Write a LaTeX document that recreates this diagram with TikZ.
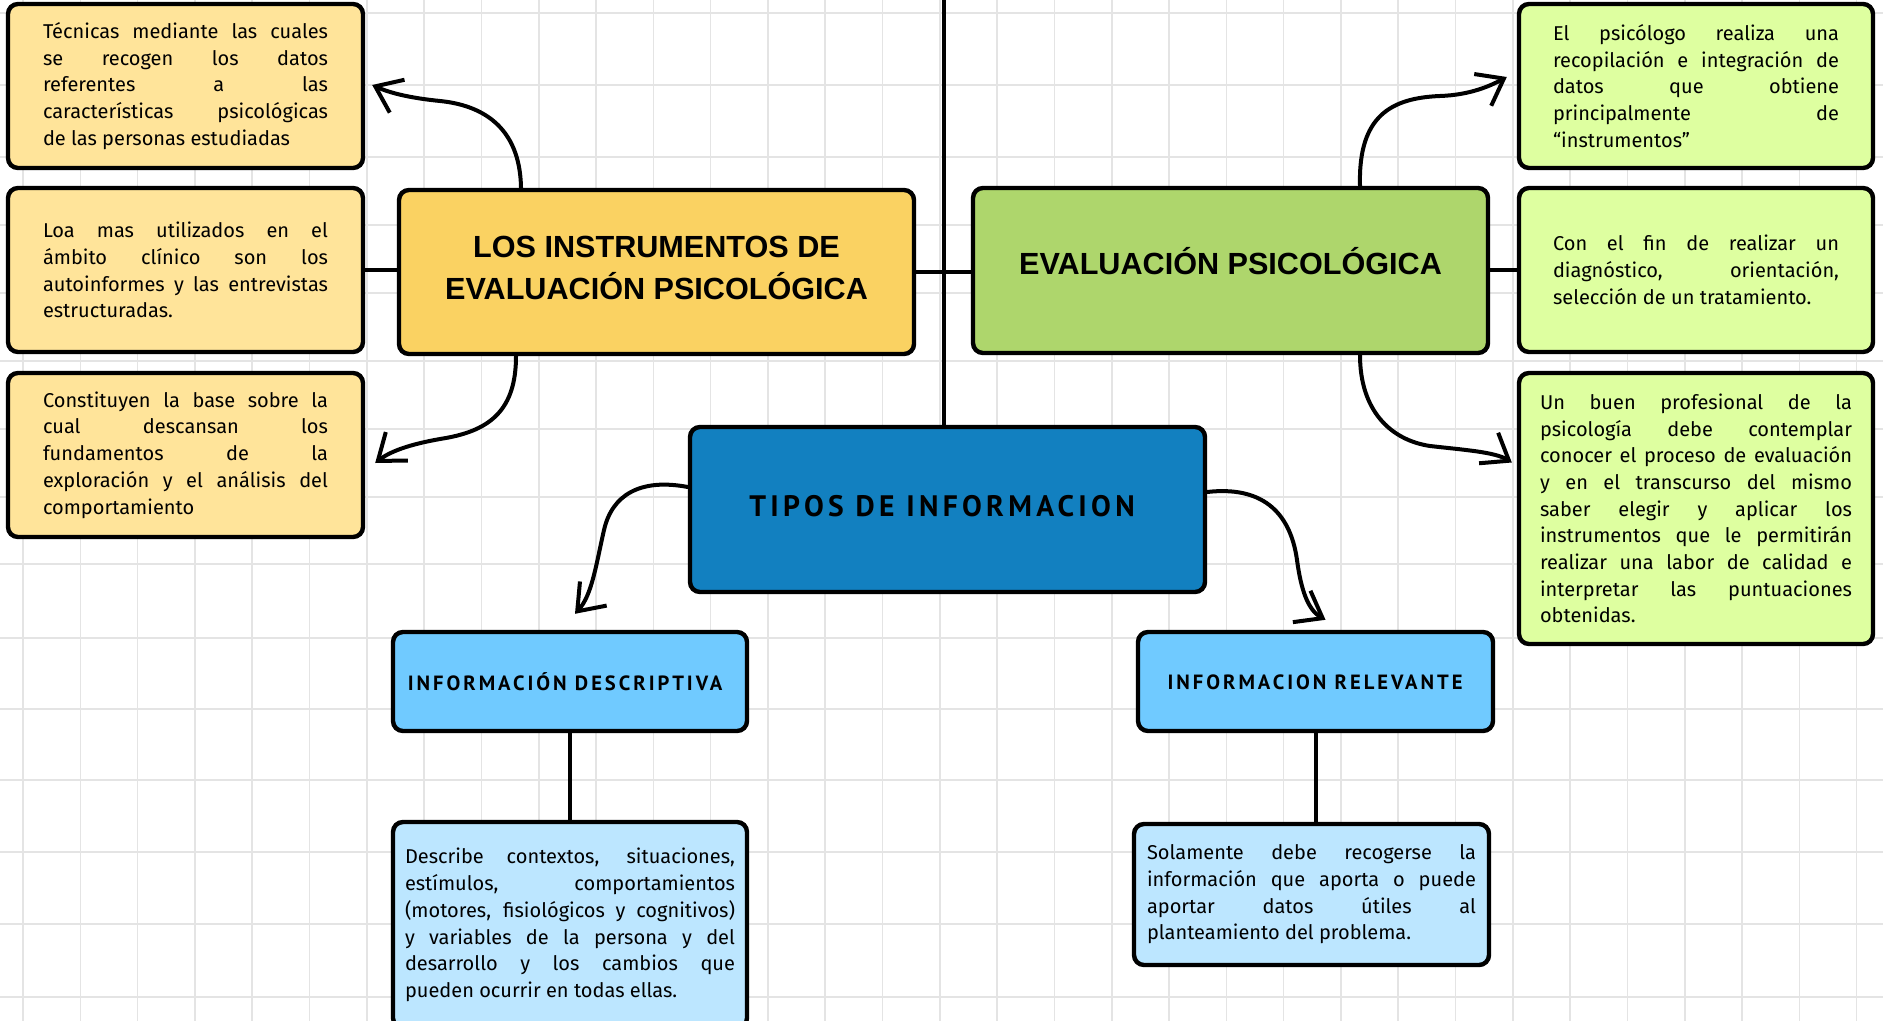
\documentclass[tikz,border=0pt]{standalone}
\usepackage{fontspec}
\setmainfont{Fira Sans}
\newfontfamily\titlefont{Liberation Sans}
\newfontfamily\capfont[LetterSpace=14.5]{PT Sans}
\usetikzlibrary{arrows.meta,calc}
\definecolor{yelmain}{RGB}{250,210,98}
\definecolor{yellite}{RGB}{255,228,154}
\definecolor{grnmain}{RGB}{174,214,108}
\definecolor{grnlite}{RGB}{222,255,160}
\definecolor{blumain}{RGB}{18,128,192}
\definecolor{blumid}{RGB}{112,202,255}
\definecolor{blulite}{RGB}{188,230,255}
\definecolor{gridc}{RGB}{228,228,228}
\newdimen\lw
\newcommand\jl[1]{\hbox to\lw{#1}}
\newcommand\lastl[1]{\hbox{#1}}
\newcommand\para[2]{\vbox{\hsize=#1\relax\lw=#1\relax
  \spaceskip=\fontdimen2\font plus 4\fontdimen2\font minus 0.2\fontdimen2\font\relax #2}}
\tikzset{
  box/.style={draw=black, line width=2.2pt, rounded corners=5pt, inner sep=0pt},
  body/.style={font=\fontsize{10}{13.35}\selectfont, text width=#1},
  titletxt/.style={font=\titlefont\bfseries\fontsize{15.3}{21}\selectfont, align=center, inner sep=0pt},
  captxt/.style={font=\capfont\bfseries\fontsize{#1}{#1}\selectfont, inner sep=0pt},
  con/.style={line width=2pt, line cap=round},
  arr/.style={line width=2pt, line cap=round, line join=round, -{Straight Barb[length=12pt,width=18pt,line width=2pt]}},
}
\begin{document}
\begin{tikzpicture}[x=0.5pt,y=-0.5pt]
\useasboundingbox (0,0) rectangle (1883,1021);
\clip (0,0) rectangle (1883,1021);
\fill[white] (0,0) rectangle (1883,1021);
% grid
\foreach \i in {0,...,32} \draw[gridc, line width=0.8pt] ({23+57.3*\i},0) -- ++(0,1021);
\foreach \yy in {13,85,157,225,293,361,429,497,564,638,709,780,852,924,997}
  \draw[gridc, line width=0.8pt] (0,\yy) -- ++(1883,0);

% main boxes
\node[box, fill=yelmain, minimum width=257.5pt, minimum height=82pt] (yel) at (656.5,272) {};
\node[titletxt] (yelt) at (656.5,268) {LOS INSTRUMENTOS DE\\EVALUACIÓN PSICOLÓGICA};
\node[box, fill=grnmain, minimum width=257.5pt, minimum height=82.5pt] (grn) at (1230.5,270.5) {};
\node[titletxt] (grnt) at (1230.5,261) {EVALUACIÓN PSICOLÓGICA};
\node[box, fill=blumain, minimum width=257.5pt, minimum height=82.5pt] (blu) at (947.5,509.5) {};
\node[captxt=14.8] (blut) at (942,506) {TIPOS DE INFORMACION};

% left boxes
\node[box, fill=yellite, minimum width=177.5pt, minimum height=82pt, body=142.5pt] (tl1) at (185.5,86) {\para{142.5pt}{%
\jl{Técnicas mediante las cuales}\jl{se recogen los datos}\jl{referentes a las}\jl{características psicológicas}\lastl{de las personas estudiadas}}};
\node[box, fill=yellite, minimum width=177.5pt, minimum height=82pt, body=142.5pt] (tl2) at (185.5,270) {\para{142.5pt}{%
\jl{Loa mas utilizados en el}\jl{ámbito clínico son los}\jl{autoinformes y las entrevistas}\lastl{estructuradas.}}};
\node[box, fill=yellite, minimum width=177.5pt, minimum height=82pt, body=142.5pt] (tl3) at (185.5,455) {\para{142.5pt}{%
\jl{Constituyen la base sobre la}\jl{cual descansan los}\jl{fundamentos de la}\jl{exploración y el análisis del}\lastl{comportamiento}}};

% right boxes
\node[box, fill=grnlite, minimum width=177pt, minimum height=82pt, body=143pt] (tr1) at (1696,86) {\para{143pt}{%
\jl{El psicólogo realiza una}\jl{recopilación e integración de}\jl{datos que obtiene}\jl{principalmente de}\lastl{“instrumentos”}}};
\node[box, fill=grnlite, minimum width=177pt, minimum height=82pt, body=143pt] (tr2) at (1696,270) {\para{143pt}{%
\jl{Con el fin de realizar un}\jl{diagnóstico, orientación,}\lastl{selección de un tratamiento.}}};
\node[box, fill=grnlite, minimum width=177pt, minimum height=135.5pt, body=156pt] (tr3) at (1696,508.5) {\para{156pt}{%
\jl{Un buen profesional de la}\jl{psicología debe contemplar}\jl{conocer el proceso de evaluación}\jl{y en el transcurso del mismo}\jl{saber elegir y aplicar los}\jl{instrumentos que le permitirán}\jl{realizar una labor de calidad e}\jl{interpretar las puntuaciones}\lastl{obtenidas.}}};

% info boxes
\node[box, fill=blumid, minimum width=177pt, minimum height=49.5pt] (infod) at (570,681.5) {};
\node[captxt=10.3] (infodt) at (565,682) {INFORMACIÓN DESCRIPTIVA};
\node[box, fill=blumid, minimum width=177.5pt, minimum height=49.5pt] (infor) at (1315.5,681.5) {};
\node[captxt=10.3] (infort) at (1315,682) {INFORMACION RELEVANTE};

\node[box, fill=blulite, minimum width=177pt, minimum height=103pt, body=165pt] (desc) at (570,925) {\para{165pt}{%
\jl{Describe contextos, situaciones,}\jl{estímulos, comportamientos}\jl{(motores, fisiológicos y cognitivos)}\jl{y variables de la persona y del}\jl{desarrollo y los cambios que}\lastl{pueden ocurrir en todas ellas.}}};
\node[box, fill=blulite, minimum width=177.5pt, minimum height=70.5pt, body=164.5pt] (sol) at (1311.5,894.5) {\para{164.5pt}{%
\jl{Solamente debe recogerse la}\jl{información que aporta o puede}\jl{aportar datos útiles al}\lastl{planteamiento del problema.}}};

% straight connectors
\coordinate (top) at (944,0);
\draw[con] (top) -- (top |- blu.north);
\draw[con] (tl2.east) -- (tl2.east -| yel.west);
\draw[con] (yel.east) -- (yel.east -| grn.west);
\draw[con] (grn.east) -- (grn.east -| tr2.west);
\draw[con] (infod.south) -- (infod.south |- desc.north);
\draw[con] (infor.south) -- (infor.south |- sol.north);

% curved arrows
\draw[arr] ($(yel.north)+(-135.5,0)$) .. controls (520,125) and (480,105) .. (440,101)
  .. controls (410,98) and (390,93) .. ($(tl1.east)+(7,-1)$);
\draw[arr] ($(yel.south)+(-140.5,0)$) .. controls (516,410) and (490,430) .. (446,438)
  .. controls (415,443) and (392,450) .. ($(tl3.east)+(10,8)$);
\draw[arr] ($(grn.north)+(129.5,0)$) .. controls (1358,115) and (1392,98) .. (1440,96)
  .. controls (1470,95) and (1490,86) .. ($(tr1.west)+(-10,-9)$);
\draw[arr] ($(grn.south)+(129.5,0)$) .. controls (1360,410) and (1390,440) .. (1430,446)
  .. controls (1465,450) and (1495,452) .. ($(tr3.west)+(-5,-46)$);
\draw[arr] ($(blu.west)+(0,-22.5)$) .. controls (640,478) and (612,495) .. (604,530)
  .. controls (596,565) and (592,595) .. ($(infod.north)+(5,-16)$);
\draw[arr] ($(blu.east)+(0,-17.5)$) .. controls (1260,486) and (1290,510) .. (1297,560)
  .. controls (1301,590) and (1308,610) .. ($(infor.north)+(10,-10)$);
\end{tikzpicture}
\end{document}
